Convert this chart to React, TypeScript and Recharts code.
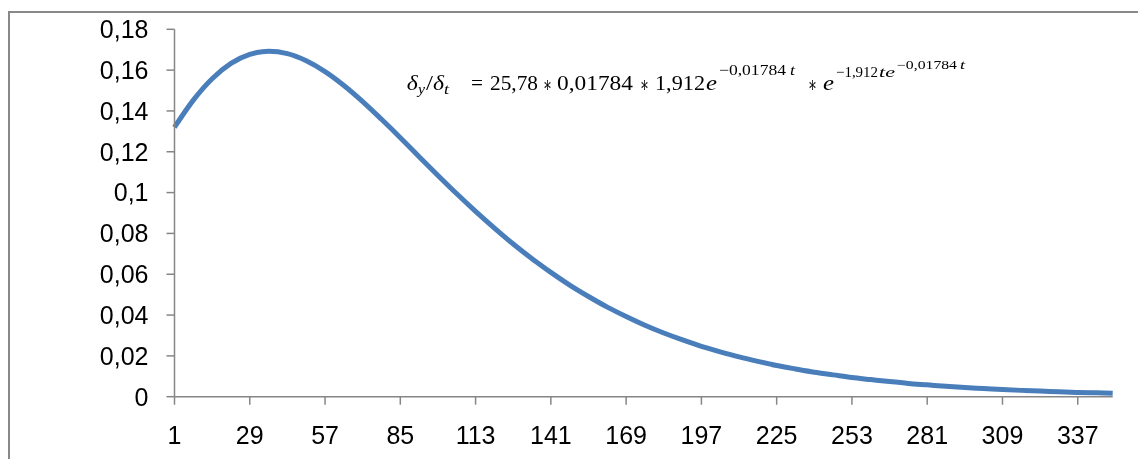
import { Line, LineChart, XAxis, YAxis } from "recharts";

const tValues = [
  1, 8, 15, 22, 29, 36, 43, 50, 57, 64, 71, 78, 85, 92, 99, 106, 113, 120, 127, 134, 141, 148, 155, 162, 169,
  176, 183, 190, 197, 204, 211, 218, 225, 232, 239, 246, 253, 260, 267, 274, 281, 288, 295, 302, 309, 316,
  323, 330, 337, 344, 350,
];

const rateValues = [
  0.132, 0.1453, 0.1558, 0.1633, 0.1677, 0.1692, 0.1681, 0.1646, 0.1593, 0.1525, 0.1446, 0.1359, 0.1269,
  0.1176, 0.1084, 0.0994, 0.0908, 0.0826, 0.0748, 0.0676, 0.0609, 0.0547, 0.0491, 0.0439, 0.0393, 0.035,
  0.0312, 0.0278, 0.0247, 0.022, 0.0195, 0.0173, 0.0153, 0.0136, 0.012, 0.0107, 0.0094, 0.0084, 0.0074,
  0.0065, 0.0058, 0.0051, 0.0045, 0.004, 0.0035, 0.0031, 0.0028, 0.0024, 0.0021, 0.0019, 0.0017,
];

const xTicks = [1, 29, 57, 85, 113, 141, 169, 197, 225, 253, 281, 309, 337];
const yTicks = [0, 0.02, 0.04, 0.06, 0.08, 0.1, 0.12, 0.14, 0.16, 0.18];

const data = tValues.map((t, i) => ({ t, rate: rateValues[i] }));

const axisColor = "#868686";
const tickFont = { fill: "#000", fontSize: 25, fontFamily: "'Liberation Sans', Arial, sans-serif" };

// formula pieces, x/y in chart coords, w = target width
const formula = [
  { s: "δ", x: 398.7, y: 82, w: 11, size: 22, it: true },
  { s: "y", x: 410, y: 86, w: 7, size: 15, it: true },
  { s: "/", x: 418, y: 82, w: 7, size: 22 },
  { s: "δ", x: 425, y: 82, w: 11, size: 22, it: true },
  { s: "t", x: 436, y: 86, w: 5, size: 15, it: true },
  { s: "=", x: 463, y: 82, w: 12, size: 22 },
  { s: "25,78", x: 482, y: 82, w: 48, size: 22 },
  { s: "∗", x: 535, y: 84, w: 9, size: 22 },
  { s: "0,01784", x: 549, y: 82, w: 76, size: 22 },
  { s: "∗", x: 632, y: 84, w: 9, size: 22 },
  { s: "1,912", x: 647, y: 82, w: 50, size: 22 },
  { s: "e", x: 698, y: 82, w: 11, size: 22, it: true },
  { s: "−0,01784", x: 711, y: 67, w: 67, size: 15 },
  { s: "t", x: 782, y: 67, w: 5, size: 15, it: true },
  { s: "∗", x: 800, y: 84, w: 9, size: 22 },
  { s: "e", x: 815, y: 82, w: 11, size: 22, it: true },
  { s: "−1,912", x: 828, y: 69, w: 42, size: 15 },
  { s: "te", x: 871, y: 69, w: 16, size: 15, it: true },
  { s: "−0,01784", x: 889, y: 61, w: 60, size: 12 },
  { s: "t", x: 952, y: 61, w: 5, size: 12, it: true },
];

export default function App() {
  return (
    <div style={{ position: "relative", width: 1122, height: 451 }}>
      <div
        style={{
          position: "fixed",
          left: 8,
          top: 11,
          width: 1130,
          height: 448,
          borderTop: "2px solid #888",
          borderLeft: "2px solid #888",
          boxSizing: "border-box",
        }}
      />
      <LineChart width={1122} height={451} data={data} margin={{ top: 21.3, right: 17.3, left: 0, bottom: 12.3 }}>
        <XAxis
          dataKey="t"
          type="number"
          domain={[1, 350]}
          ticks={xTicks}
          interval={0}
          height={50}
          tickSize={8}
          tickMargin={22}
          stroke={axisColor}
          strokeWidth={1.5}
          tick={tickFont}
        />
        <YAxis
          domain={[0, 0.18]}
          ticks={yTicks}
          interval={0}
          width={166.5}
          tickSize={8}
          tickMargin={18}
          stroke={axisColor}
          strokeWidth={1.5}
          tick={tickFont}
          tickFormatter={(v: number) => String(v).replace(".", ",")}
        />
        <Line
          type="monotone"
          dataKey="rate"
          stroke="#4A7EBB"
          strokeWidth={5}
          dot={false}
          isAnimationActive={false}
        />
      </LineChart>
      <svg width={1122} height={120} style={{ position: "absolute", left: 0, top: 0, pointerEvents: "none" }}>
        {formula.map((f, i) => (
          <text
            key={i}
            x={f.x}
            y={f.y}
            fontSize={f.size}
            fontStyle={f.it ? "italic" : "normal"}
            fontFamily="'Liberation Serif', 'DejaVu Serif', serif"
            textLength={f.w}
            lengthAdjust="spacingAndGlyphs"
            fill="#000"
          >
            {f.s}
          </text>
        ))}
      </svg>
    </div>
  );
}
